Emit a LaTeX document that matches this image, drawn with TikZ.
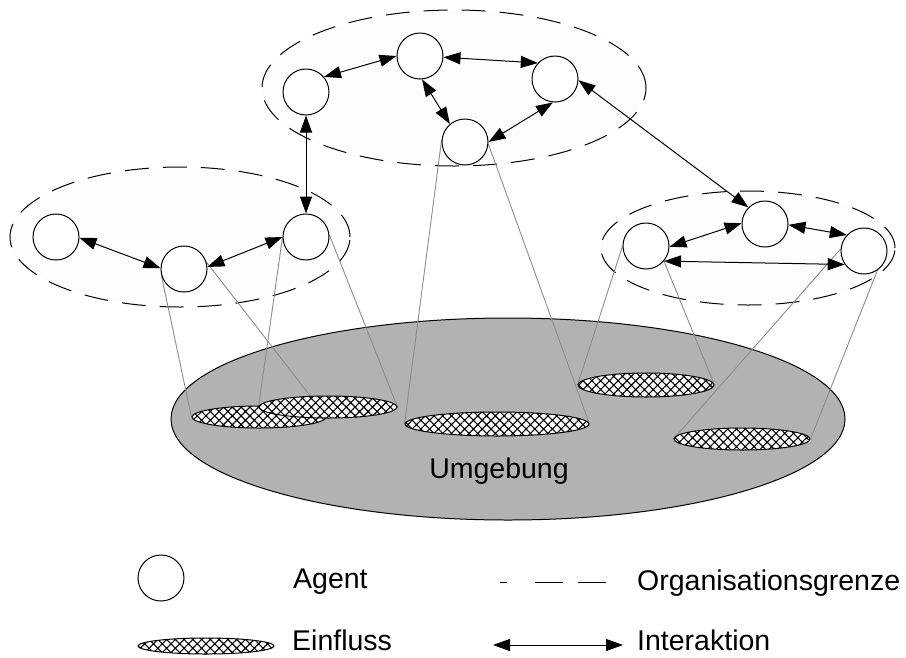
\documentclass[tikz,border=0pt]{standalone}
\usepackage{fontspec}
\setmainfont{Liberation Sans}
\usetikzlibrary{arrows.meta,patterns.meta,shapes.geometric}
\pgfdeclarelayer{base}
\pgfdeclarelayer{mid}
\pgfsetlayers{base,mid,main}
\begin{document}
\begin{tikzpicture}[x=1pt,y=-1pt,
  agent/.style={circle,draw,line width=1pt,fill=white,minimum size=46pt,inner sep=0pt},
  org/.style={ellipse,draw,dash pattern=on 24pt off 14pt,line width=1pt,fill=black!0.8,inner sep=0pt},
  env/.style={ellipse,draw,line width=1pt,fill=black!30,inner sep=0pt},
  infl/.style={ellipse,draw,line width=1pt,inner sep=0pt,preaction={fill=white},
    pattern={Hatch[angle=45,distance=6.2pt,line width=1.1pt]}},
  inter/.style={{Triangle[length=17pt,width=12pt]}-{Triangle[length=17pt,width=12pt]},line width=1pt},
  proj/.style={draw=black!45,line width=0.9pt},
  lbl/.style={font=\fontsize{28.5}{30}\selectfont,anchor=base west,inner sep=0pt}
]
\useasboundingbox (0,0) rectangle (906,657);

% organisations and environment
\begin{pgfonlayer}{base}
\node[org,minimum width=384pt,minimum height=156pt] (orgT) at (454,88) {};
\node[org,minimum width=340pt,minimum height=140pt] (orgL) at (180,237) {};
\node[org,minimum width=294pt,minimum height=114pt] (orgR) at (748,248) {};
\node[env,minimum width=674pt,minimum height=202pt] (env) at (508,419) {};
\end{pgfonlayer}

% areas of influence
\node[infl,minimum width=134pt,minimum height=22pt] (E1) at (259,417) {};
\node[infl,minimum width=138pt,minimum height=22pt] (E2) at (328,407) {};
\node[infl,minimum width=184pt,minimum height=24pt] (E3) at (497,424) {};
\node[infl,minimum width=136pt,minimum height=24pt] (E4) at (646,385) {};
\node[infl,minimum width=136pt,minimum height=22pt] (E5) at (742,439) {};

\node[font=\fontsize{28.5}{30}\selectfont,anchor=base,inner sep=0pt] (umg) at (499,478) {Umgebung};

% agents
\node[agent] (A1) at (306,92) {};
\node[agent] (A2) at (420,56) {};
\node[agent] (A3) at (555,79) {};
\node[agent] (A4) at (465,142) {};
\node[agent] (L1) at (56,237) {};
\node[agent] (L2) at (184,269) {};
\node[agent] (L3) at (306,237) {};
\node[agent] (R1) at (646,246) {};
\node[agent] (R2) at (765,224) {};
\node[agent] (R3) at (864,251) {};

% projection of agents onto their influence
\begin{pgfonlayer}{mid}
\draw[proj] (L2.195) -- (E1.west) (L2.17) -- (E1.east);
\draw[proj] (L3.180) -- (E2.west) (L3.5) -- (E2.east);
\draw[proj] (A4.175) -- (E3.west) (A4.-5) -- (E3.east);
\draw[proj] (R1.180) -- (E4.west) (R1.-40) -- (E4.east);
\draw[proj] (R3.175) -- (E5.west) (R3.-55) -- (E5.east);
\end{pgfonlayer}

% interactions
\draw[inter] (A1.40) -- (A2.180);
\draw[inter] (A2.-3) -- (A3.137);
\draw[inter] (A2.-85) -- (A4.130);
\draw[inter] (A4.0) -- (A3.-95);
\draw[inter] (A1) -- (L3);
\draw[inter] (A3.-3) -- (R2.135);
\draw[inter] (L1.-2) -- (L2.178);
\draw[inter] (L2.5) -- (L3.180);
\draw[inter] (R1.-2) -- (R2.178);
\draw[inter] (R2.-2) -- (R3.137);
\draw[inter] (R1.-40) -- (R3.215);

% legend
\node[agent] (legA) at (161,578) {};
\node[lbl] (legAt) at (293,588) {Agent};
\node[infl,minimum width=136pt,minimum height=16pt] (legE) at (206,646) {};
\node[lbl] (legEt) at (292,650) {Einfluss};
\coordinate (legO1) at (500,582);
\coordinate (legO2) at (606,582);
\draw[line width=1pt,dash pattern=on 7pt off 28pt on 28pt off 15pt on 28pt] (legO1) -- (legO2);
\node[lbl] (legOt) at (637,590) {Organisationsgrenze};
\coordinate (legI1) at (493,645);
\coordinate (legI2) at (623,645);
\draw[inter] (legI1) -- (legI2);
\node[lbl] (legIt) at (637,650) {Interaktion};
\end{tikzpicture}
\end{document}
